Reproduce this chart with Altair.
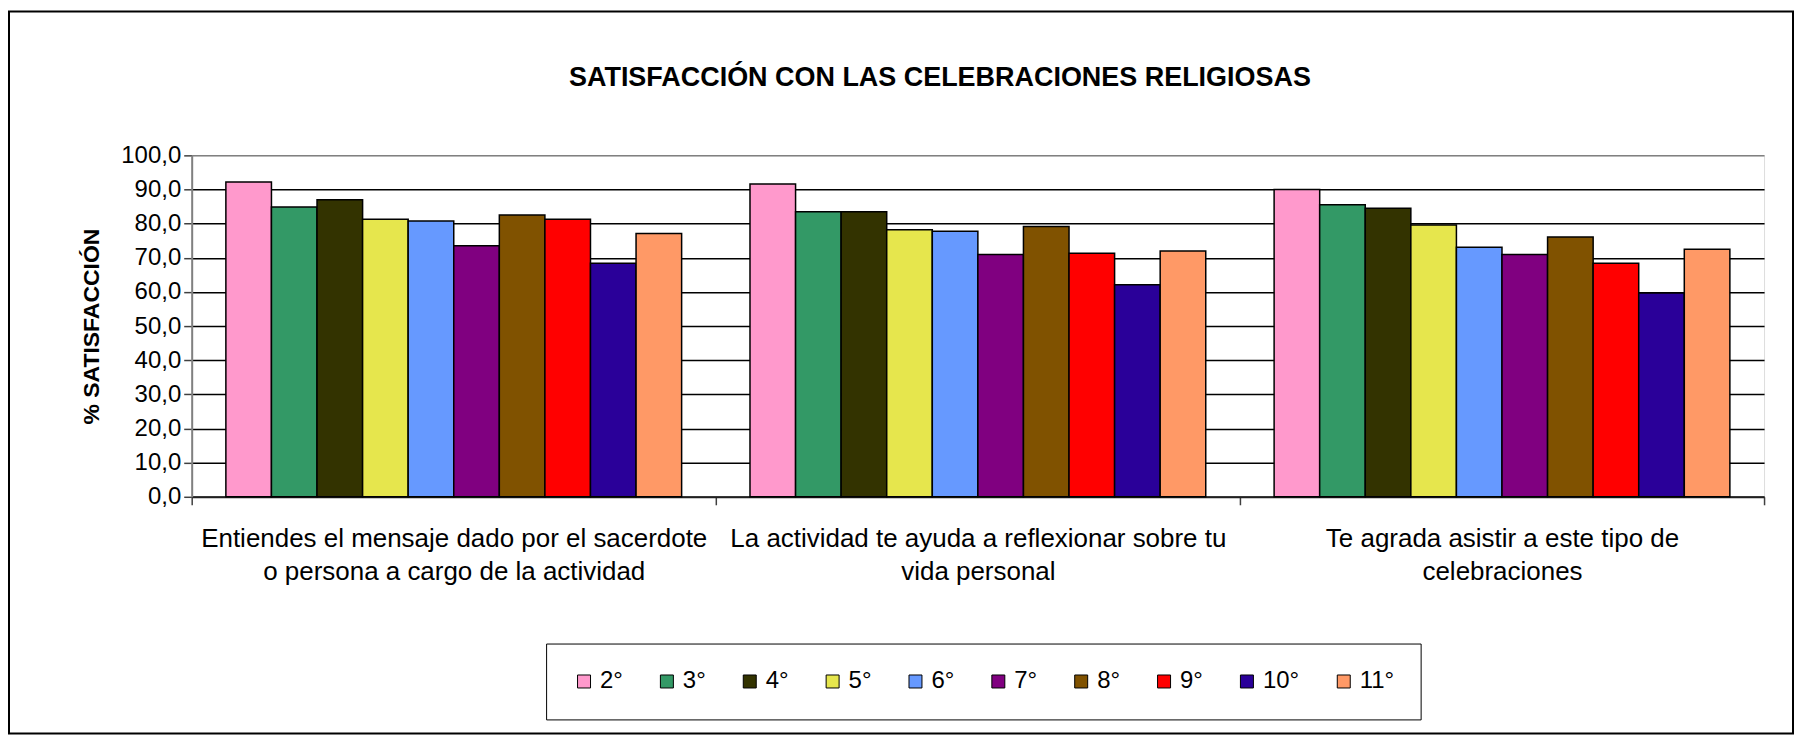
import altair as alt
import pandas as pd

# ---- data ----
categories = [
    "Entiendes el mensaje dado por el sacerdote|o persona a cargo de la actividad",
    "La actividad te ayuda a reflexionar sobre tu|vida personal",
    "Te agrada asistir a este tipo de|celebraciones",
]
grades = ["2°", "3°", "4°", "5°", "6°", "7°", "8°", "9°", "10°", "11°"]
values_mensaje = [92.2, 84.9, 87.0, 81.3, 80.8, 73.5, 82.5, 81.3, 68.4, 77.1]
values_reflexion = [91.6, 83.5, 83.5, 78.2, 77.8, 71.0, 79.2, 71.3, 62.1, 72.0]
values_agrada = [90.0, 85.5, 84.5, 79.6, 73.1, 71.0, 76.1, 68.4, 59.7, 72.5]
colors = ["#FF99CC", "#339966", "#333300", "#E6E64D", "#6699FF",
          "#800080", "#805200", "#FF0000", "#2A0099", "#FF9966"]
y_ticks = [0, 10, 20, 30, 40, 50, 60, 70, 80, 90, 100]

rows = []
for cat, vals in zip(categories, [values_mensaje, values_reflexion, values_agrada]):
    for g, v in zip(grades, vals):
        rows.append({"categoria": cat, "curso": g, "valor": v})
df = pd.DataFrame(rows)

W, H = 1575, 342
FONT = "Liberation Sans"

bars = alt.Chart(df).mark_bar(stroke="black", strokeWidth=1.5).encode(
    x=alt.X(
        "categoria:N", sort=categories,
        scale=alt.Scale(paddingInner=0, paddingOuter=0),
        axis=alt.Axis(
            title=None,
            labelExpr="isValid(datum.value) ? split(datum.value, '|') : ''",
            labelAngle=0,
            labelFontSize=26, labelFont=FONT, labelColor="black",
            labelLineHeight=33, labelPadding=21, labelBaseline="top",
            labelLimit=800,
            tickSize=8, tickBand="extent", tickColor="#404040", tickWidth=1.5,
            domainColor="#202020", domainWidth=2, grid=False,
        ),
    ),
    xOffset=alt.XOffset("curso:N", sort=grades,
                        scale=alt.Scale(paddingInner=0, paddingOuter=0.75)),
    y=alt.Y(
        "valor:Q", scale=alt.Scale(domain=[0, 100], nice=False),
        axis=alt.Axis(
            values=y_ticks,
            labelExpr="replace(format(datum.value, '.1f'), '.', ',')",
            title="% SATISFACCIÓN", titleFontSize=23, titleFont=FONT,
            titleFontWeight="bold", titleAngle=270, titleX=-100, titleY=H / 2,
            titleBaseline="middle", titleAlign="center", titleColor="black",
            labelFontSize=24, labelFont=FONT, labelColor="black", labelPadding=3,
            tickSize=8, tickColor="#404040", tickWidth=1.5,
            domainColor="#808080", domainWidth=2,
            grid=True, gridWidth=1.5,
            gridColor={"condition": {"test": "datum.value === 100", "value": "#808080"},
                       "value": "black"},
        ),
    ),
    color=alt.Color(
        "curso:N", sort=grades,
        scale=alt.Scale(domain=grades, range=colors),
        legend=alt.Legend(
            title=None, orient="none", legendX=355, legendY=489,
            direction="horizontal", columns=10, symbolType="square",
            symbolSize=169, symbolStrokeColor="black", symbolStrokeWidth=1,
            symbolOpacity=1,
            labelFontSize=24, labelFont=FONT, labelColor="black", labelOffset=4,
            columnPadding=32, padding=26, strokeColor="black",
        ),
    ),
)

frame = alt.Chart(pd.DataFrame({"f": [0]})).mark_rect(
    filled=False, stroke="black", strokeWidth=2
).encode(
    x=alt.value(-183), x2=alt.value(1604), y=alt.value(-144), y2=alt.value(579)
)

chart = alt.layer(frame, bars).properties(
    width=W, height=H,
    padding={"left": 184, "top": 147, "right": 31, "bottom": 239},
    autosize=alt.AutoSizeParams(type="none"),
    title=alt.TitleParams(
        text="SATISFACCIÓN CON LAS CELEBRACIONES RELIGIOSAS",
        fontSize=27, font=FONT, fontWeight="bold", color="black",
        anchor="middle", frame="group", orient="top", offset=-103,
        baseline="alphabetic", dx=-38,
    ),
).configure_view(
    fill="#ECECEC", stroke="#808080", strokeWidth=2
).configure(background="white")

chart.save("out.html", embed_options={"renderer": "svg", "actions": False})
